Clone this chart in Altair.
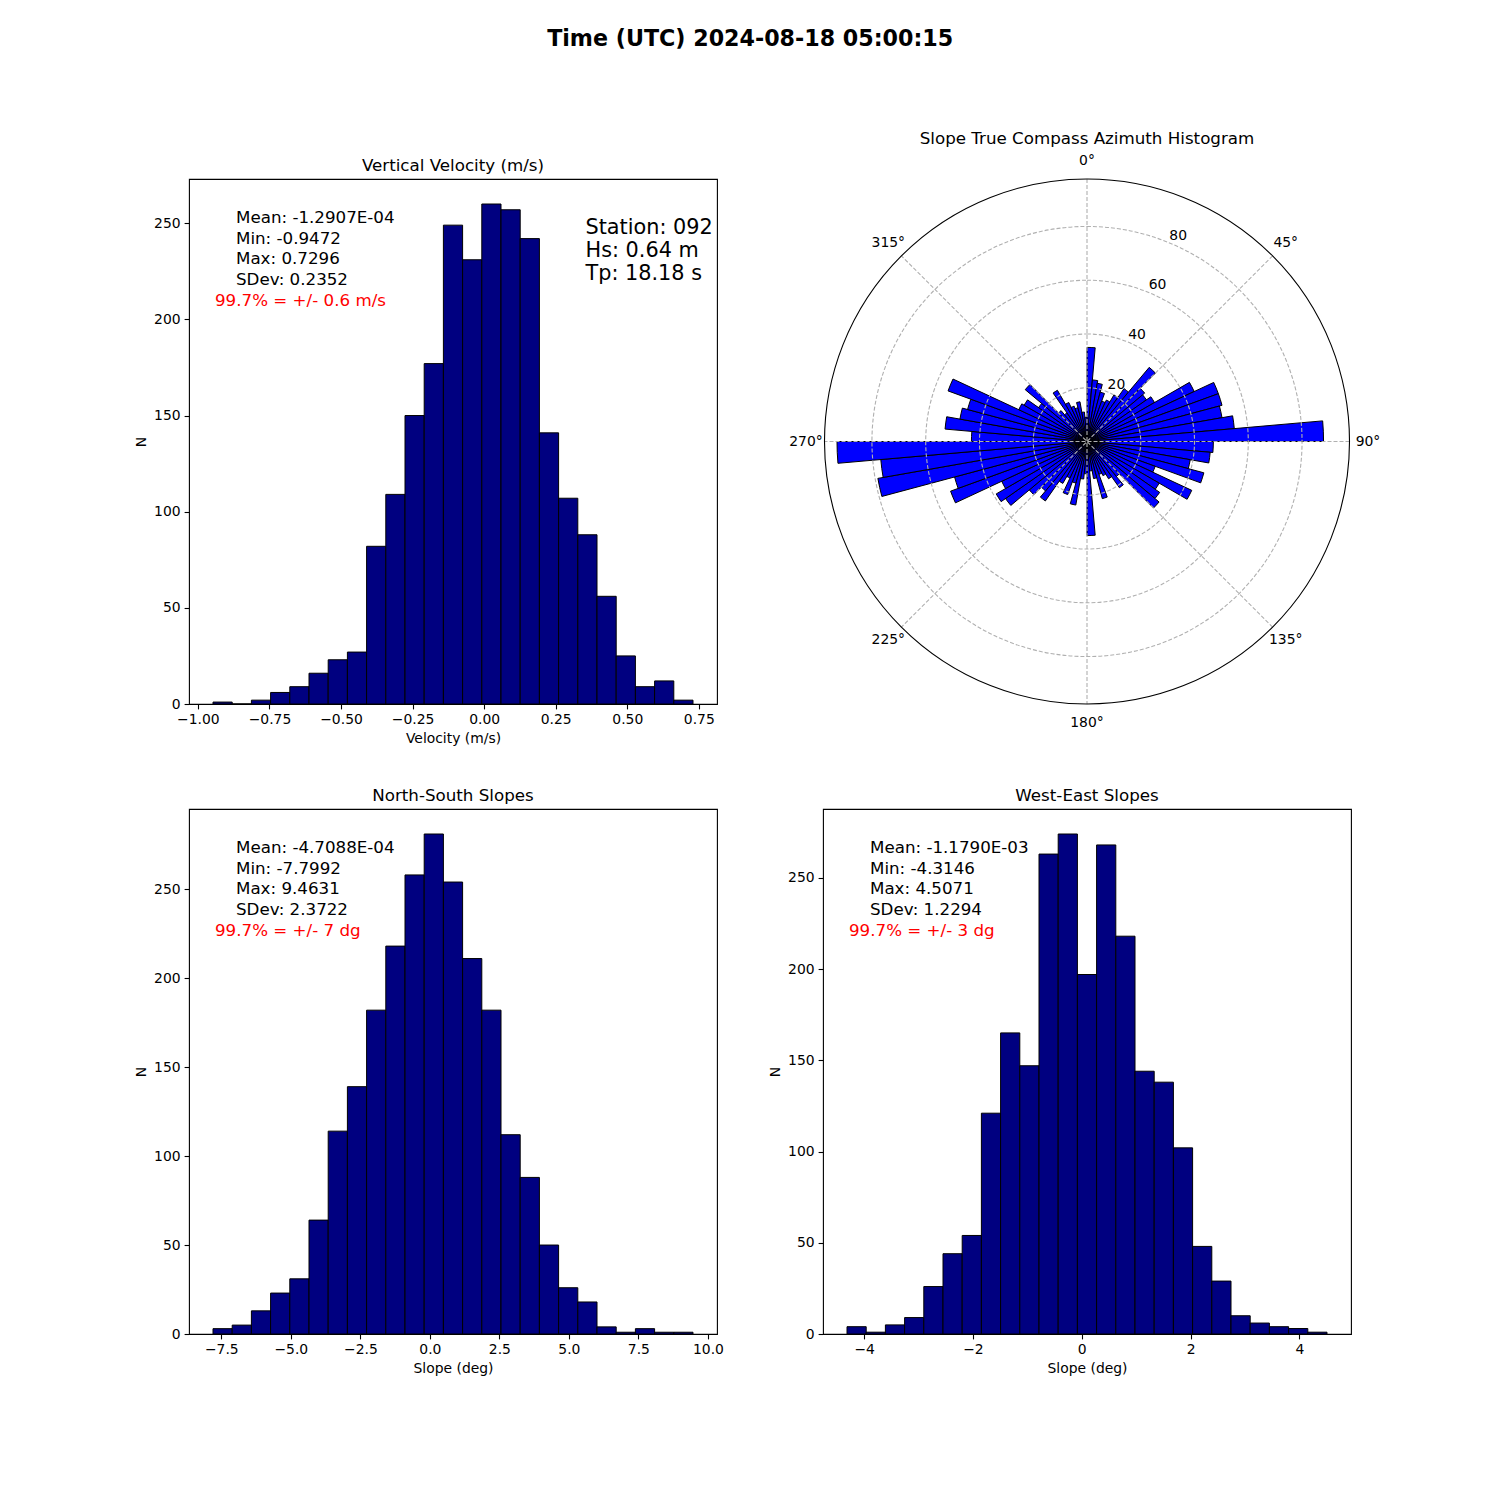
import altair as alt
import numpy as np
import pandas as pd

FONT = "DejaVu Sans"
MAIN_TITLE = "Time (UTC) 2024-08-18 05:00:15"

# ---------------- Vertical velocity ----------------
vel_title = "Vertical Velocity (m/s)"
vel_xlabel = "Velocity (m/s)"
vel_min = -0.9472
vel_max = 0.7296
vel_counts = [1, 0, 2, 6, 9, 16, 23, 27, 82, 109, 150, 177, 249, 231, 260,
              257, 242, 141, 107, 88, 56, 25, 9, 12, 2]
vel_xticks = [-1.0, -0.75, -0.5, -0.25, 0.0, 0.25, 0.5, 0.75]
vel_stats = ["Mean: -1.2907E-04", "Min: -0.9472", "Max: 0.7296", "SDev: 0.2352"]
vel_conf = "99.7% = +/- 0.6 m/s"
station_info = ["Station: 092", "Hs: 0.64 m", "Tp: 18.18 s"]

# ---------------- North-South slopes ----------------
ns_title = "North-South Slopes"
ns_min = -7.7992
ns_max = 9.4631
ns_counts = [3, 5, 13, 23, 31, 64, 114, 139, 182, 218, 258, 281, 254, 211, 182,
             112, 88, 50, 26, 18, 4, 1, 3, 1, 1]
ns_xticks = [-7.5, -5.0, -2.5, 0.0, 2.5, 5.0, 7.5, 10.0]
ns_stats = ["Mean: -4.7088E-04", "Min: -7.7992", "Max: 9.4631", "SDev: 2.3722"]
ns_conf = "99.7% = +/- 7 dg"

# ---------------- West-East slopes ----------------
we_title = "West-East Slopes"
we_min = -4.3146
we_max = 4.5071
we_counts = [4, 1, 5, 9, 26, 44, 54, 121, 165, 147, 263, 274, 197, 268, 218,
             144, 138, 102, 48, 29, 10, 6, 4, 3, 1]
we_xticks = [-4, -2, 0, 2, 4]
we_stats = ["Mean: -1.1790E-03", "Min: -4.3146", "Max: 4.5071", "SDev: 1.2294"]
we_conf = "99.7% = +/- 3 dg"

slope_xlabel = "Slope (deg)"
count_label = "N"
count_ticks = [0, 50, 100, 150, 200, 250]

# ---------------- Azimuth rose ----------------
az_title = "Slope True Compass Azimuth Histogram"
az_bin_start = list(range(0, 360, 5))
az_bin_width = 5
az_counts = [35, 23, 22, 19, 16, 17, 20, 24, 36, 28, 27, 29, 44, 52, 52, 51, 55, 88,
             47, 46, 39, 45, 27, 43, 31, 33, 35, 17, 21, 16, 14, 13, 22, 14, 11, 35,
             12, 14, 24, 16, 21, 15, 18, 27, 24, 28, 37, 39, 35, 54, 51, 79, 77, 93,
             43, 53, 48, 46, 55, 28, 27, 22, 30, 15, 13, 22, 16, 14, 13, 15, 11, 9]
ring_values = [20, 40, 60, 80]
ring_labels = ["20", "40", "60", "80"]
angle_ticks = [0, 45, 90, 135, 180, 225, 270, 315]
angle_labels = ["0°", "45°", "90°", "135°", "180°", "225°", "270°", "315°"]
spoke_angles = [0, 45, 90, 135]

# ---------------- layout / style ----------------
PW, PH = 528, 525
NAVY = "#000080"
BLUE = "#0000ff"
GRID = "#b0b0b0"


def histogram(counts, vmin, vmax, xticks, xfmt, title, xtitle, stats, conf, extra=None):
    edges = np.linspace(vmin, vmax, len(counts) + 1)
    df = pd.DataFrame({"lo": edges[:-1], "hi": edges[1:], "n": counts})
    span = vmax - vmin
    xdom = [vmin - 0.05 * span, vmax + 0.05 * span]
    ydom = [0, max(counts) * 1.05]
    bars = alt.Chart(df).mark_rect(fill=NAVY, stroke="black", strokeWidth=1).encode(
        x=alt.X("lo:Q", scale=alt.Scale(domain=xdom, nice=False, zero=False),
                axis=alt.Axis(values=xticks, format=xfmt, title=xtitle)),
        x2="hi:Q",
        y=alt.Y("n:Q", scale=alt.Scale(domain=ydom, nice=False),
                axis=alt.Axis(values=count_ticks, title=count_label)),
        y2=alt.Y2Datum(0),
    )
    one = pd.DataFrame({"k": [0]})
    txt = alt.Chart(one).mark_text(align="left", baseline="alphabetic", font=FONT,
                                   fontSize=16.7, lineHeight=20.7, color="black").encode(
        x=alt.value(47), y=alt.value(44), text=alt.value(stats))
    red = alt.Chart(one).mark_text(align="left", baseline="alphabetic", font=FONT,
                                   fontSize=16.7, color="#ff0000").encode(
        x=alt.value(26), y=alt.value(44 + 4 * 20.7), text=alt.value(conf))
    layers = [bars, txt, red]
    if extra is not None:
        st = alt.Chart(one).mark_text(align="left", baseline="alphabetic", font=FONT,
                                      fontSize=20.8, lineHeight=23, color="black").encode(
            x=alt.value(396.5), y=alt.value(55), text=alt.value(extra))
        layers.append(st)
    return alt.layer(*layers).properties(
        width=PW, height=PH,
        title=alt.TitleParams(title, font=FONT, fontSize=16.7, fontWeight="normal",
                              baseline="alphabetic", offset=-9, color="black"),
        view=alt.ViewBackground(stroke="black", strokeWidth=1.1),
    )


h1 = histogram(vel_counts, vel_min, vel_max, vel_xticks, ".2f", vel_title, vel_xlabel,
               vel_stats, vel_conf, extra=station_info)
h2 = histogram(ns_counts, ns_min, ns_max, ns_xticks, ".1f", ns_title, slope_xlabel,
               ns_stats, ns_conf)
h3 = histogram(we_counts, we_min, we_max, we_xticks, "d", we_title, slope_xlabel,
               we_stats, we_conf)

# ---------------- polar rose ----------------
RMAX = max(az_counts) * 1.05
RPX = 262.5
rscale = alt.Scale(type="linear", domain=[0, RMAX], range=[0, RPX])
tscale = alt.Scale(domain=[0, 360], range=[0, 2 * np.pi])

az_df = pd.DataFrame({"a0": az_bin_start,
                      "a1": [a + az_bin_width for a in az_bin_start],
                      "n": az_counts})
rose = alt.Chart(az_df).mark_arc(fill=BLUE, stroke="black", strokeWidth=1).encode(
    theta=alt.Theta("a0:Q", scale=tscale, stack=False),
    theta2="a1:Q",
    radius=alt.Radius("n:Q", scale=rscale),
    radius2=alt.Radius2Datum(0),
)

ring_df = pd.DataFrame({"r": ring_values, "lab": ring_labels})
rings = alt.Chart(ring_df).transform_calculate(t0="0", t1="360").mark_arc(
    filled=False, stroke=GRID, strokeDash=[4, 2], strokeWidth=1.1).encode(
    theta=alt.Theta("t0:Q", scale=tscale, stack=False),
    theta2="t1:Q",
    radius=alt.Radius("r:Q", scale=rscale),
    radius2=alt.Radius2Datum(0),
)

spoke_df = pd.DataFrame({"a": spoke_angles})
xr = RMAX * PW / (2 * RPX)
yr = RMAX * PH / (2 * RPX)
spokes = alt.Chart(spoke_df).transform_calculate(
    sx1=f"{RMAX}*sin(datum.a*PI/180)",
    sy1=f"{RMAX}*cos(datum.a*PI/180)",
).transform_calculate(
    sx2="-datum.sx1", sy2="-datum.sy1"
).mark_rule(stroke=GRID, strokeDash=[4, 2], strokeWidth=1.1).encode(
    x=alt.X("sx1:Q", scale=alt.Scale(domain=[-xr, xr], nice=False, zero=False), axis=None),
    y=alt.Y("sy1:Q", scale=alt.Scale(domain=[-yr, yr], nice=False, zero=False), axis=None),
    x2="sx2:Q",
    y2="sy2:Q",
)

outer = alt.Chart(pd.DataFrame({"r": [RMAX]})).transform_calculate(t0="0", t1="360").mark_arc(
    filled=False, stroke="black", strokeWidth=1.1).encode(
    theta=alt.Theta("t0:Q", scale=tscale, stack=False),
    theta2="t1:Q",
    radius=alt.Radius("r:Q", scale=rscale),
    radius2=alt.Radius2Datum(0),
)

RLAB = RMAX * 281 / RPX
ang_df = pd.DataFrame({"a": angle_ticks, "lab": angle_labels})
ang_txt = alt.Chart(ang_df).transform_calculate(r=f"{RLAB}").mark_text(
    font=FONT, fontSize=13.9, align="center", baseline="middle", color="black").encode(
    theta=alt.Theta("a:Q", scale=tscale, stack=False),
    radius=alt.Radius("r:Q", scale=rscale),
    text="lab:N",
)

rlab_txt = alt.Chart(ring_df).transform_calculate(a="22.5").mark_text(
    font=FONT, fontSize=13.9, align="left", baseline="bottom", color="black").encode(
    theta=alt.Theta("a:Q", scale=tscale, stack=False),
    radius=alt.Radius("r:Q", scale=rscale),
    text="lab:N",
)

polar = alt.layer(rose, rings, spokes, outer, ang_txt, rlab_txt).properties(
    width=PW, height=PH,
    title=alt.TitleParams(az_title, font=FONT, fontSize=16.7, fontWeight="normal",
                          baseline="alphabetic", offset=-7.5, color="black"),
    view=alt.ViewBackground(stroke="transparent"),
)

chart = alt.concat(
    h1, polar, h2, h3, columns=2,
    spacing=alt.RowColnumber(row=105, column=106),
    bounds="flush",
    title=alt.TitleParams(MAIN_TITLE, font=FONT, fontSize=22.2, fontWeight="bold",
                          anchor="middle", baseline="alphabetic", offset=63, dx=-7,
                          color="black"),
    padding={"left": 126, "top": 20, "right": 20, "bottom": 20},
    background="white",
).configure_view(strokeWidth=0).configure_axis(
    labelFont=FONT, labelFontSize=13.9, labelColor="black", labelPadding=4,
    labelFlush=False, labelOverlap=False,
    tickColor="black", tickSize=4.9, tickWidth=1.1,
    domain=False, grid=False,
    titleFont=FONT, titleFontSize=13.9, titleFontWeight="normal", titleColor="black",
    titlePadding=5,
)

chart.save("out.html", embed_options={"renderer": "svg", "actions": False})
